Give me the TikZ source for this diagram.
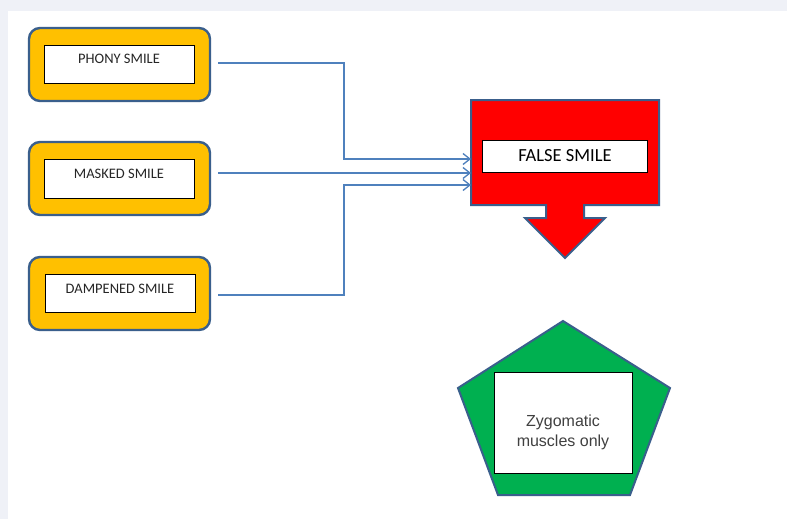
\documentclass[tikz,border=0pt]{standalone}
\usepackage{fontspec}
\setmainfont{Carlito}
\newfontfamily\arialf{Liberation Sans}
\usetikzlibrary{arrows.meta}
\definecolor{bggray}{HTML}{EFF1F7}
\definecolor{edgeblue}{HTML}{3A5F8C}
\definecolor{linkblue}{HTML}{4F81BD}
\definecolor{orangefill}{HTML}{FFC000}
\definecolor{greenfill}{HTML}{00B050}
\tikzset{
  outerbox/.style={draw=edgeblue, line width=2.4pt, fill=orangefill, rounded corners=11pt},
  innerbox/.style={draw=black, line width=0.8pt, fill=white},
  smalltxt/.style={font=\fontsize{14.5}{16}\selectfont, text=black!85},
  link/.style={draw=linkblue, line width=1.4pt, -{Straight Barb[length=7pt,width=11pt,line width=1.3pt]}},
}
\begin{document}
\begin{tikzpicture}[x=1pt,y=-1pt]
\fill[bggray] (0,0) rectangle (787,519);
\fill[white] (8,11) rectangle (787,519);
\useasboundingbox (0,0) rectangle (787,519);

% left boxes
\draw[outerbox] (29,28) rectangle (210,101);
\node[innerbox, minimum width=150pt, minimum height=38pt, anchor=north west] (p) at (44,45) {};
\node[smalltxt] (pt) at (119,59) {PHONY SMILE};
\coordinate (ps) at (218,63);

\draw[outerbox] (29,142) rectangle (210,215);
\node[innerbox, minimum width=150pt, minimum height=39pt, anchor=north west] (m) at (44,159) {};
\node[smalltxt] (mt) at (119,174) {MASKED SMILE};
\coordinate (ms) at (218,173);

\draw[outerbox] (29,257) rectangle (210,330);
\node[innerbox, minimum width=150pt, minimum height=38pt, anchor=north west] (d) at (45,274) {};
\node[smalltxt] (dt) at (120,289) {DAMPENED SMILE};
\coordinate (ds) at (218,295);

% red arrow shape
\draw[draw=edgeblue, line width=2pt, fill=red, line join=miter]
  (471,100) -- (659,100) -- (659,205) -- (584,205) -- (584,218) -- (605,218)
  -- (565,258) -- (525,218) -- (546,218) -- (546,205) -- (471,205) -- cycle;
\coordinate (f) at (471,173);
\node[innerbox, minimum width=165pt, minimum height=32pt, anchor=north west] (fb) at (482,140) {};
\node[font=\fontsize{18.5}{20}\selectfont] (ft) at (565,156) {FALSE SMILE};

% connectors
\draw[link] (ps) -- (344,63) -- (344,159) -- (471,159);
\draw[link, line width=1.9pt] (ms) -- (f);
\draw[link] (ds) -- (344,295) -- (344,185) -- (471,185);

% pentagon
\draw[draw=edgeblue, line width=2pt, fill=greenfill, line join=miter]
  (563,321) -- (670,388) -- (630,495) -- (498,495) -- (458,388) -- cycle;
\node[innerbox, minimum width=138pt, minimum height=101pt, anchor=north west] (z) at (494,372) {};
\node[font=\arialf\fontsize{16}{20}\selectfont, text=black!75, align=center] (zt) at (563,432) {Zygomatic\\muscles only};
\end{tikzpicture}
\end{document}
